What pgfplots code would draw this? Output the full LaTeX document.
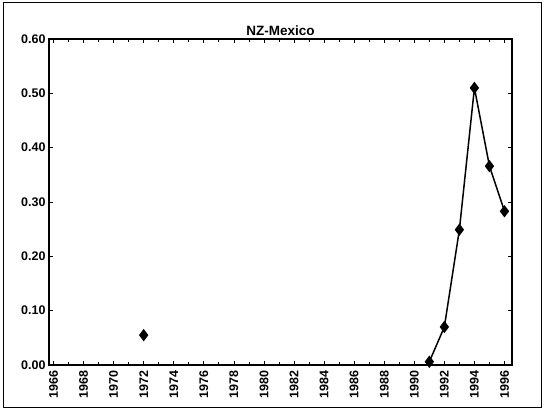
\documentclass[border=0pt]{standalone}
\usepackage{fontspec}
\setmainfont{Liberation Sans}
\usepackage{pgfplots}
\pgfplotsset{compat=1.18}
\begin{document}
\begin{tikzpicture}[x=1pt,y=1pt]
\useasboundingbox (0,0) rectangle (544,412);
\draw[line width=1pt] (3,4) rectangle (541,409);
\begin{axis}[
  at={(49pt,47pt)}, anchor=south west,
  scale only axis, width=463pt, height=326pt,
  xmin=1965.7, xmax=1996.5, ymin=0, ymax=0.6,
  axis line style={line width=1.5pt},
  xtick={1966,1968,...,1996},
  minor xtick={1967,1969,...,1995},
  ytick={0,0.1,...,0.6},
  tick align=inside,
  major tick length=4pt, minor tick length=3pt,
  tick style={black, line width=0.8pt},
  /pgf/number format/assume math mode=true,
  yticklabel style={/pgf/number format/.cd, fixed, fixed zerofill, precision=2, /tikz/.cd, font=\fontsize{12.5}{14}\selectfont\bfseries},
  xticklabel style={rotate=90, anchor=east, xshift=-2pt, /pgf/number format/1000 sep={}, font=\fontsize{12.5}{14}\selectfont\bfseries},
  title={NZ-Mexico}, title style={font=\fontsize{13.5}{15}\selectfont\bfseries, yshift=-6pt},
  clip=false,
]
\addplot[black, line width=1.5pt, mark=diamond*, mark size=5pt, only marks] coordinates {(1972,0.055)};
\addplot[black, line width=1.5pt, mark=diamond*, mark size=5pt] coordinates {
(1991,0.006) (1992,0.070) (1993,0.249) (1994,0.510) (1995,0.366) (1996,0.283)};
\end{axis}
\end{tikzpicture}
\end{document}
